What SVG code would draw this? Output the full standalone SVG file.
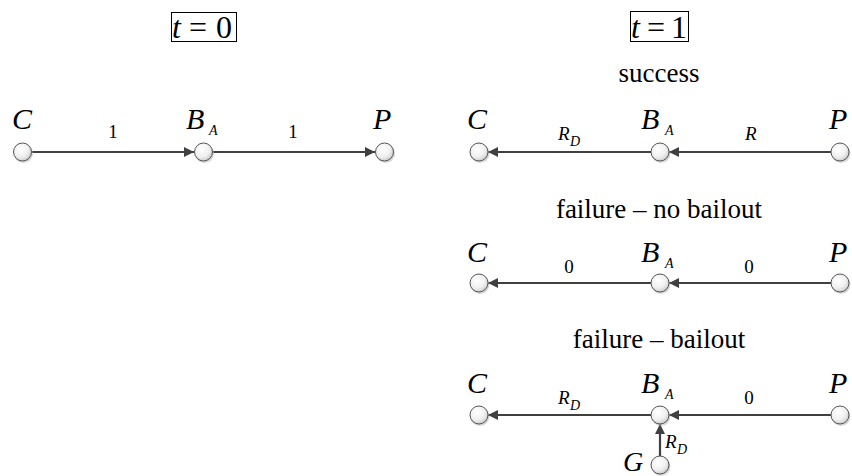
<svg xmlns="http://www.w3.org/2000/svg" width="852" height="476" viewBox="0 0 852 476" font-family="'Liberation Serif', 'Times New Roman', serif">
<defs>
<radialGradient id="ng" cx="0.4" cy="0.35" r="0.7">
<stop offset="0" stop-color="#ffffff"/>
<stop offset="0.6" stop-color="#f0f0f0"/>
<stop offset="1" stop-color="#c8c8c8"/>
</radialGradient>
<marker id="ah" viewBox="0 0 10 10" refX="10" refY="5" markerWidth="10" markerHeight="10" markerUnits="userSpaceOnUse" orient="auto">
<path d="M0,0 L10,5 L0,10 z" fill="#404040"/>
</marker>
</defs>
<style>
text{font-family:'Liberation Serif','Times New Roman',serif;fill:#000}
.nm{font-size:30px;font-style:italic}
.sb{font-size:14px;font-style:italic}
.lb{font-size:19px}
.li{font-size:19px;font-style:italic}
.hd{font-size:27px}
.tt{font-size:32px}
.node circle.s{fill:#bdbdbd;opacity:0.6}
.node circle.c{fill:url(#ng);stroke:#555;stroke-width:1}
.edge{stroke:#404040;stroke-width:2.2;fill:none;marker-end:url(#ah)}
.box{fill:none;stroke:#000;stroke-width:1}
</style>

<g id="title0">
<rect class="box" x="171.5" y="12.5" width="65" height="29"/>
<text class="tt" x="172" y="38" font-style="italic">t</text>
<text class="tt" x="189" y="38">=</text>
<text class="tt" x="216" y="38">0</text>
</g>
<g id="title1">
<rect class="box" x="630.5" y="11.5" width="58" height="30"/>
<text class="tt" x="631" y="38" font-style="italic">t</text>
<text class="tt" x="647" y="38">=</text>
<text class="tt" x="671" y="38">1</text>
</g>

<g id="headings">
<text class="hd" x="659" y="82" text-anchor="middle">success</text>
<text class="hd" x="659" y="218" text-anchor="middle">failure – no bailout</text>
<text class="hd" x="659" y="348" text-anchor="middle">failure – bailout</text>
</g>

<g id="connectors">
<line class="edge" x1="32" y1="152" x2="194" y2="152"/>
<line class="edge" x1="213" y1="152" x2="375" y2="152"/>
<line class="edge" x1="831" y1="152" x2="669" y2="152"/>
<line class="edge" x1="651" y1="152" x2="488" y2="152"/>
<line class="edge" x1="831" y1="283" x2="669" y2="283"/>
<line class="edge" x1="651" y1="283" x2="488" y2="283"/>
<line class="edge" x1="831" y1="415" x2="669" y2="415"/>
<line class="edge" x1="651" y1="415" x2="488" y2="415"/>
<line class="edge" x1="660" y1="456" x2="660" y2="424"/>
<text class="lb" x="113" y="138" text-anchor="middle">1</text>
<text class="lb" x="293" y="138" text-anchor="middle">1</text>
<text class="li" x="558" y="140">R</text><text class="sb" x="570" y="146">D</text>
<text class="li" x="745" y="140">R</text>
<text class="lb" x="569" y="273" text-anchor="middle">0</text>
<text class="lb" x="749" y="273" text-anchor="middle">0</text>
<text class="li" x="558" y="404">R</text><text class="sb" x="570" y="410">D</text>
<text class="lb" x="749" y="404" text-anchor="middle">0</text>
<text class="li" x="665" y="448">R</text><text class="sb" x="677" y="454">D</text>
</g>

<g id="t0-C" class="node"><circle class="s" cx="23.5" cy="153.5" r="9.5"/><circle class="c" cx="22.5" cy="152" r="9"/><text class="nm" x="12" y="129">C</text></g>
<g id="t0-BA" class="node"><circle class="s" cx="204.5" cy="153.5" r="9.5"/><circle class="c" cx="203.5" cy="152" r="9"/><text class="nm" x="186" y="129">B</text><text class="sb" x="209" y="135">A</text></g>
<g id="t0-P" class="node"><circle class="s" cx="385.5" cy="153.5" r="9.5"/><circle class="c" cx="384.5" cy="152" r="9"/><text class="nm" x="373" y="129">P</text></g>

<g id="s-C" class="node"><circle class="s" cx="480" cy="153.5" r="9.5"/><circle class="c" cx="479" cy="152" r="9"/><text class="nm" x="467" y="129">C</text></g>
<g id="s-BA" class="node"><circle class="s" cx="661" cy="153.5" r="9.5"/><circle class="c" cx="660" cy="152" r="9"/><text class="nm" x="641" y="129">B</text><text class="sb" x="665" y="135">A</text></g>
<g id="s-P" class="node"><circle class="s" cx="841" cy="153.5" r="9.5"/><circle class="c" cx="840" cy="152" r="9"/><text class="nm" x="829" y="129">P</text></g>

<g id="n-C" class="node"><circle class="s" cx="480" cy="284.5" r="9.5"/><circle class="c" cx="479" cy="283" r="9"/><text class="nm" x="467" y="262">C</text></g>
<g id="n-BA" class="node"><circle class="s" cx="661" cy="284.5" r="9.5"/><circle class="c" cx="660" cy="283" r="9"/><text class="nm" x="641" y="262">B</text><text class="sb" x="665" y="268">A</text></g>
<g id="n-P" class="node"><circle class="s" cx="841" cy="284.5" r="9.5"/><circle class="c" cx="840" cy="283" r="9"/><text class="nm" x="829" y="262">P</text></g>

<g id="b-C" class="node"><circle class="s" cx="480" cy="416.5" r="9.5"/><circle class="c" cx="479" cy="415" r="9"/><text class="nm" x="467" y="393">C</text></g>
<g id="b-BA" class="node"><circle class="s" cx="661" cy="416.5" r="9.5"/><circle class="c" cx="660" cy="415" r="9"/><text class="nm" x="641" y="393">B</text><text class="sb" x="665" y="399">A</text></g>
<g id="b-P" class="node"><circle class="s" cx="841" cy="416.5" r="9.5"/><circle class="c" cx="840" cy="415" r="9"/><text class="nm" x="829" y="393">P</text></g>
<g id="b-G" class="node"><circle class="s" cx="661" cy="466.5" r="9.5"/><circle class="c" cx="660" cy="465" r="9"/><text class="nm" x="623" y="471" style="font-size:28px">G</text></g>
</svg>
